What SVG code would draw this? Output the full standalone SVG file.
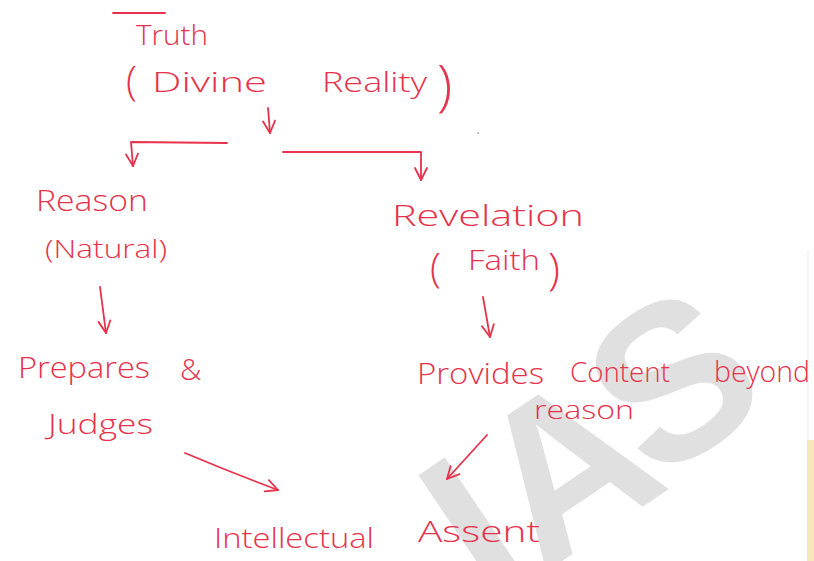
<svg xmlns="http://www.w3.org/2000/svg" width="814" height="561" viewBox="0 0 814 561">
  <defs>
    <style>
      .hw { fill: #e6324b; font-family: "Open Sans", "Liberation Sans", sans-serif; font-weight: 300; }
      .ln { fill: none; stroke: #e6324b; stroke-width: 1.8; stroke-linecap: round; stroke-linejoin: round; }
      .wm { fill: #e0e0e0; font-family: "Liberation Sans", sans-serif; font-weight: bold; }
    </style>
    <marker id="vh" viewBox="0 0 10 10" refX="9" refY="5" markerWidth="15" markerHeight="15" markerUnits="userSpaceOnUse" orient="auto">
      <path d="M1,1 L9,5 L1,9" fill="none" stroke="#e6324b" stroke-width="1.2" stroke-linecap="round" stroke-linejoin="round"/>
    </marker>
  </defs>
  <rect width="814" height="561" fill="#ffffff"/>

  <!-- watermark -->
  <g id="watermark" transform="translate(491,609) rotate(-34)">
    <text class="wm" x="0" y="0" font-size="220">IA<tspan dx="-15" dy="-12">S</tspan></text>
  </g>
  <rect x="807" y="440" width="7" height="121" fill="#f6e7b8"/>
  <line x1="808" y1="250" x2="808" y2="440" stroke="#ececec" stroke-width="1"/>
  <circle cx="478" cy="133" r="1" fill="#b0b0b0"/>

  <g id="connectors">
    <path class="ln" d="M268,108 L270,133" marker-end="url(#vh)"/>
    <path class="ln" d="M227,143 L131,142 L133,166" marker-end="url(#vh)"/>
    <path class="ln" d="M283,152 L421,152 L421,180" marker-end="url(#vh)"/>
    <path class="ln" d="M100,287 L106,333" marker-end="url(#vh)"/>
    <path class="ln" d="M185,453 Q230,472 278,490" marker-end="url(#vh)"/>
    <path class="ln" d="M483,297 L490,337" marker-end="url(#vh)"/>
    <path class="ln" d="M487,435 L447,479" marker-end="url(#vh)"/>
  </g>

  <g id="truth">
    <line class="ln" x1="113" y1="13" x2="165" y2="13"/>
    <text class="hw" x="136" y="45" font-size="28" textLength="72" lengthAdjust="spacingAndGlyphs">Truth</text>
    <text class="hw" y="92" font-size="28">
      <tspan x="126" y="95" font-size="40">(</tspan><tspan x="152" y="92" textLength="115" lengthAdjust="spacingAndGlyphs">Divine</tspan><tspan x="322" y="92" textLength="105" lengthAdjust="spacingAndGlyphs">Reality</tspan><tspan x="437" y="105" font-size="56">)</tspan>
    </text>
  </g>

  <g id="reason">
    <text class="hw" x="36" y="211" font-size="30" textLength="112" lengthAdjust="spacingAndGlyphs">Reason</text>
    <text class="hw" x="45" y="258" font-size="26" textLength="122" lengthAdjust="spacingAndGlyphs">(Natural)</text>
  </g>

  <g id="prepares">
    <text class="hw" x="18" y="378" font-size="30" textLength="132" lengthAdjust="spacingAndGlyphs">Prepares</text>
    <text class="hw" x="180" y="380" font-size="30">&amp;</text>
    <text class="hw" x="48" y="434" font-size="28" textLength="105" lengthAdjust="spacingAndGlyphs">Judges</text>
  </g>

  <g id="revelation">
    <text class="hw" x="392" y="226" font-size="30" textLength="192" lengthAdjust="spacingAndGlyphs">Revelation</text>
    <text class="hw" font-size="28">
      <tspan x="430" y="282" font-size="40">(</tspan><tspan x="468" y="270" textLength="72" lengthAdjust="spacingAndGlyphs">Faith</tspan><tspan x="548" y="285" font-size="44">)</tspan>
    </text>
  </g>

  <g id="provides">
    <text class="hw" x="417" y="384" font-size="30" textLength="127" lengthAdjust="spacingAndGlyphs">Provides</text>
    <text class="hw" x="570" y="382" font-size="28" textLength="100" lengthAdjust="spacingAndGlyphs">Content</text>
    <text class="hw" x="714" y="382" font-size="30" textLength="96" lengthAdjust="spacingAndGlyphs">beyond</text>
    <text class="hw" x="534" y="419" font-size="26" textLength="100" lengthAdjust="spacingAndGlyphs">reason</text>
  </g>

  <g id="assent">
    <text class="hw" x="214" y="548" font-size="28" textLength="160" lengthAdjust="spacingAndGlyphs">Intellectual</text>
    <text class="hw" x="418" y="542" font-size="30" textLength="122" lengthAdjust="spacingAndGlyphs">Assent</text>
  </g>
</svg>
